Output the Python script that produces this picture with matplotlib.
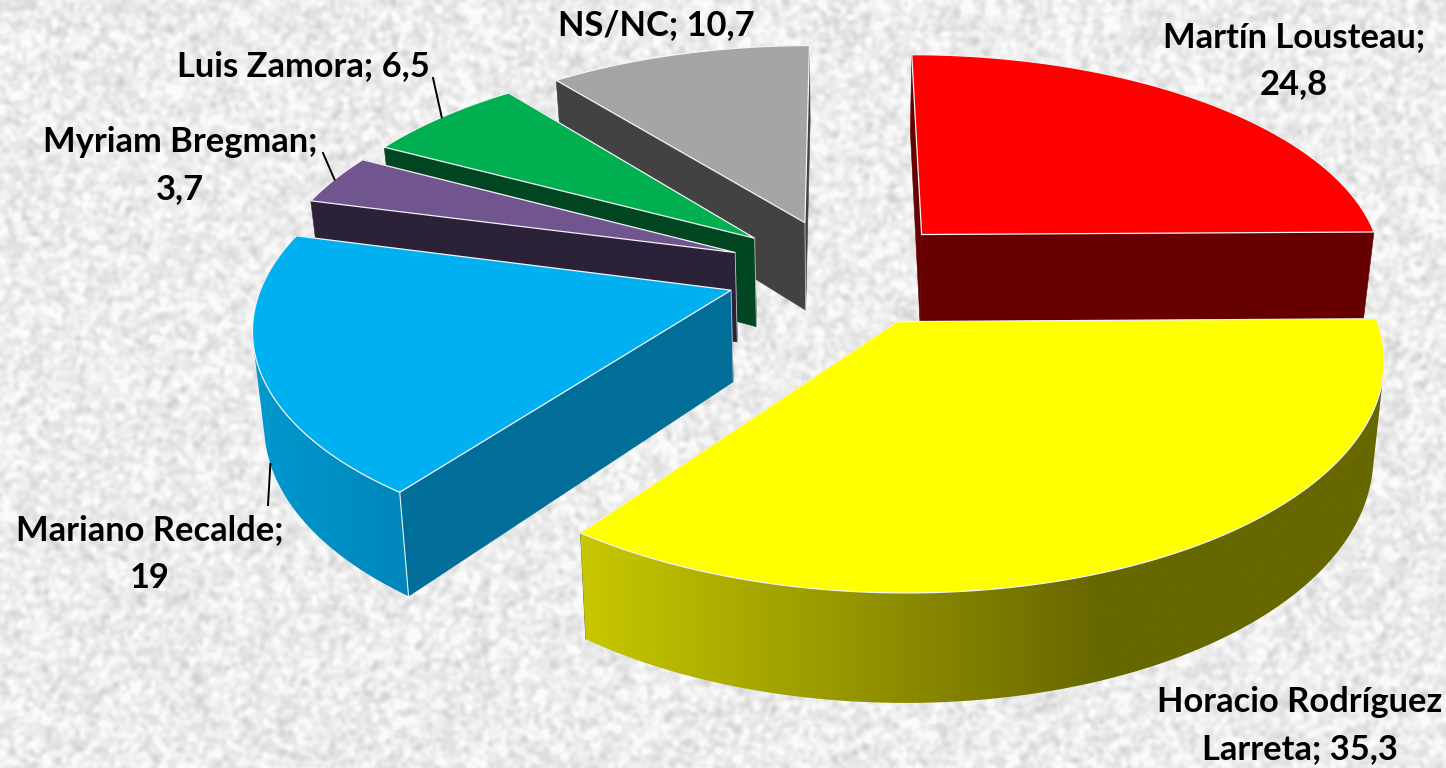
import numpy as np
import matplotlib
matplotlib.use("Agg")
import matplotlib.pyplot as plt
from matplotlib.patches import Polygon

# --- data ---
names = ["Martín Lousteau", "Horacio Rodríguez Larreta", "Mariano Recalde",
         "Myriam Bregman", "Luis Zamora", "NS/NC"]
values = [24.8, 35.3, 19.0, 3.7, 6.5, 10.7]
labels = ["Martín Lousteau;\n24,8", "Horacio Rodríguez\nLarreta; 35,3",
          "Mariano Recalde;\n19", "Myriam Bregman;\n3,7",
          "Luis Zamora; 6,5", "NS/NC; 10,7"]

# --- style ---
top_colors = ["#FF0000", "#FFFF00", "#00B0F0", "#70558F", "#00B050", "#A5A5A5"]
wall_colors = ["#660000", "#666600", "#006E99", "#2B2138", "#004620", "#424242"]
# horizontal rim gradients: (x start, x end, colour start, colour end)
rim_gradients = {1: (580, 1100, (200, 200, 0), (103, 103, 0)),
                 2: (260, 400, (0, 152, 205), (0, 135, 188))}
label_pos = [(1294, 61), (1300, 726), (150, 554), (180, 166), (303, 66), (656, 25)]
leaders = {2: ((268, 505), True), 3: ((323, 153), False), 4: ((433, 78), False)}
draw_order = [5, 4, 3, 2, 0, 1]
apex_crease = {2, 3, 4, 5}
corner_crease = {2}

# projection of the tilted pie
CX, CY, A, B, P, H, K, EXPL = 842.0, 272.0, 465.0, 216.0, 0.145, 90.5, 0.02, 0.25


def project(x, y, z=0.0):
    x, y = np.asarray(x, float), np.asarray(y, float)
    s = 1.0 / (1.0 + P * y)
    return CX + A * x * s * (1 - K * z), CY - B * y * s + H * z * s


def convex_hull(points):
    pts = sorted(set(map(tuple, np.round(points, 3))))

    def half(seq):
        out = []
        for q in seq:
            while len(out) > 1 and ((out[-1][0] - out[-2][0]) * (q[1] - out[-2][1])
                                    - (out[-1][1] - out[-2][1]) * (q[0] - out[-2][0])) <= 0:
                out.pop()
            out.append(q)
        return out[:-1]

    return np.array(half(pts) + half(pts[::-1]))


fig = plt.figure(figsize=(14.46, 7.68), dpi=100)
ax = fig.add_axes([0, 0, 1, 1])
ax.set_xlim(0, 1446)
ax.set_ylim(768, 0)
ax.set_autoscale_on(False)
ax.axis("off")

# speckled paper backdrop (decoration only)
rng = np.random.default_rng(7)
noise = rng.normal(size=(768, 1446))
fy = np.fft.fftfreq(768)[:, None]
fx = np.fft.fftfreq(1446)[None, :]
blur = np.exp(-(fx ** 2 + fy ** 2) * 2 * (np.pi * 2.4) ** 2)
tex = np.fft.ifft2(np.fft.fft2(noise) * blur).real
tex = tex / tex.std()
ax.imshow(np.clip(236 + 8 * tex, 198, 250), cmap="gray", vmin=0, vmax=255,
          extent=(0, 1446, 768, 0), aspect="auto", zorder=0, interpolation="bilinear")

total = sum(values)
edges = np.cumsum([0] + values) / total * 2 * np.pi
z = 1
geoms = {}
for i in draw_order:
    t0, t1 = edges[i], edges[i + 1]
    mid = (t0 + t1) / 2
    ox, oy = EXPL * np.sin(mid), EXPL * np.cos(mid)
    th = np.linspace(t0, t1, 240)
    ux, uy = ox + np.sin(th), oy + np.cos(th)
    tx, ty = project(ux, uy, 0)
    bx, by = project(ux, uy, 1)
    ax0, ay0 = project(ox, oy, 0)
    ax1, ay1 = project(ox, oy, 1)
    geoms[i] = (mid, ox, oy)
    # radial walls
    for j in (0, -1):
        ax.add_patch(Polygon([(ax0, ay0), (tx[j], ty[j]), (bx[j], by[j]), (ax1, ay1)],
                             closed=True, fc=wall_colors[i], ec=wall_colors[i], lw=0.4, zorder=z))
        z += 1
    # rim wall: the swept outline, the top face then covers its inner part
    rim_xy = convex_hull(np.column_stack([np.r_[tx, bx], np.r_[ty, by]]))
    if i in rim_gradients:
        x0, x1, c0, c1 = rim_gradients[i]
        xs = np.arange(int(rim_xy[:, 0].min()) - 2, int(rim_xy[:, 0].max()) + 3)
        w = np.clip((xs - x0) / (x1 - x0), 0, 1)[:, None]
        grad = (np.array(c0) * (1 - w) + np.array(c1) * w) / 255
        clip = Polygon(rim_xy, closed=True, fc="none", ec="none", transform=ax.transData)
        ax.add_patch(clip)
        im = ax.imshow(grad[None, :, :], extent=(xs[0], xs[-1], rim_xy[:, 1].max() + 2, rim_xy[:, 1].min() - 2),
                       aspect="auto", zorder=z, interpolation="bilinear")
        im.set_clip_path(clip)
    elif np.cos(mid) < 0.0:
        ax.add_patch(Polygon(rim_xy, closed=True, fc=wall_colors[i], ec=wall_colors[i], lw=0.4, zorder=z))
    z += 1
    # top face
    ax.add_patch(Polygon(np.column_stack([np.r_[ax0, tx], np.r_[ay0, ty]]), closed=True,
                         fc=top_colors[i], ec="#F4F4F4", lw=0.9, joinstyle="miter", zorder=z))
    z += 1
    # light creases on visible corners
    if i in corner_crease:
        ax.plot([tx[0], bx[0]], [ty[0], by[0]], color="#E8F4F8", lw=0.8, zorder=z)
    if i in apex_crease:
        ax.plot([ax0, ax1], [ay0, ay1], color="#C8C8C8", lw=0.6, zorder=z)
    z += 1

# labels and leader lines
for i, (lab, (lx, ly)) in enumerate(zip(labels, label_pos)):
    ax.text(lx, ly, lab, ha="center", va="center", fontsize=24.8, fontweight="bold",
            family="Lato", color="black", linespacing=1.58, zorder=z + 5)
for i, ((ex, ey), lower) in leaders.items():
    mid, ox, oy = geoms[i]
    sx, sy = project(ox + np.sin(mid), oy + np.cos(mid), 1 if lower else 0)
    ax.plot([ex, sx], [ey, sy], color="black", lw=1.4, zorder=z + 4)

fig.savefig("out.png", dpi=100)
